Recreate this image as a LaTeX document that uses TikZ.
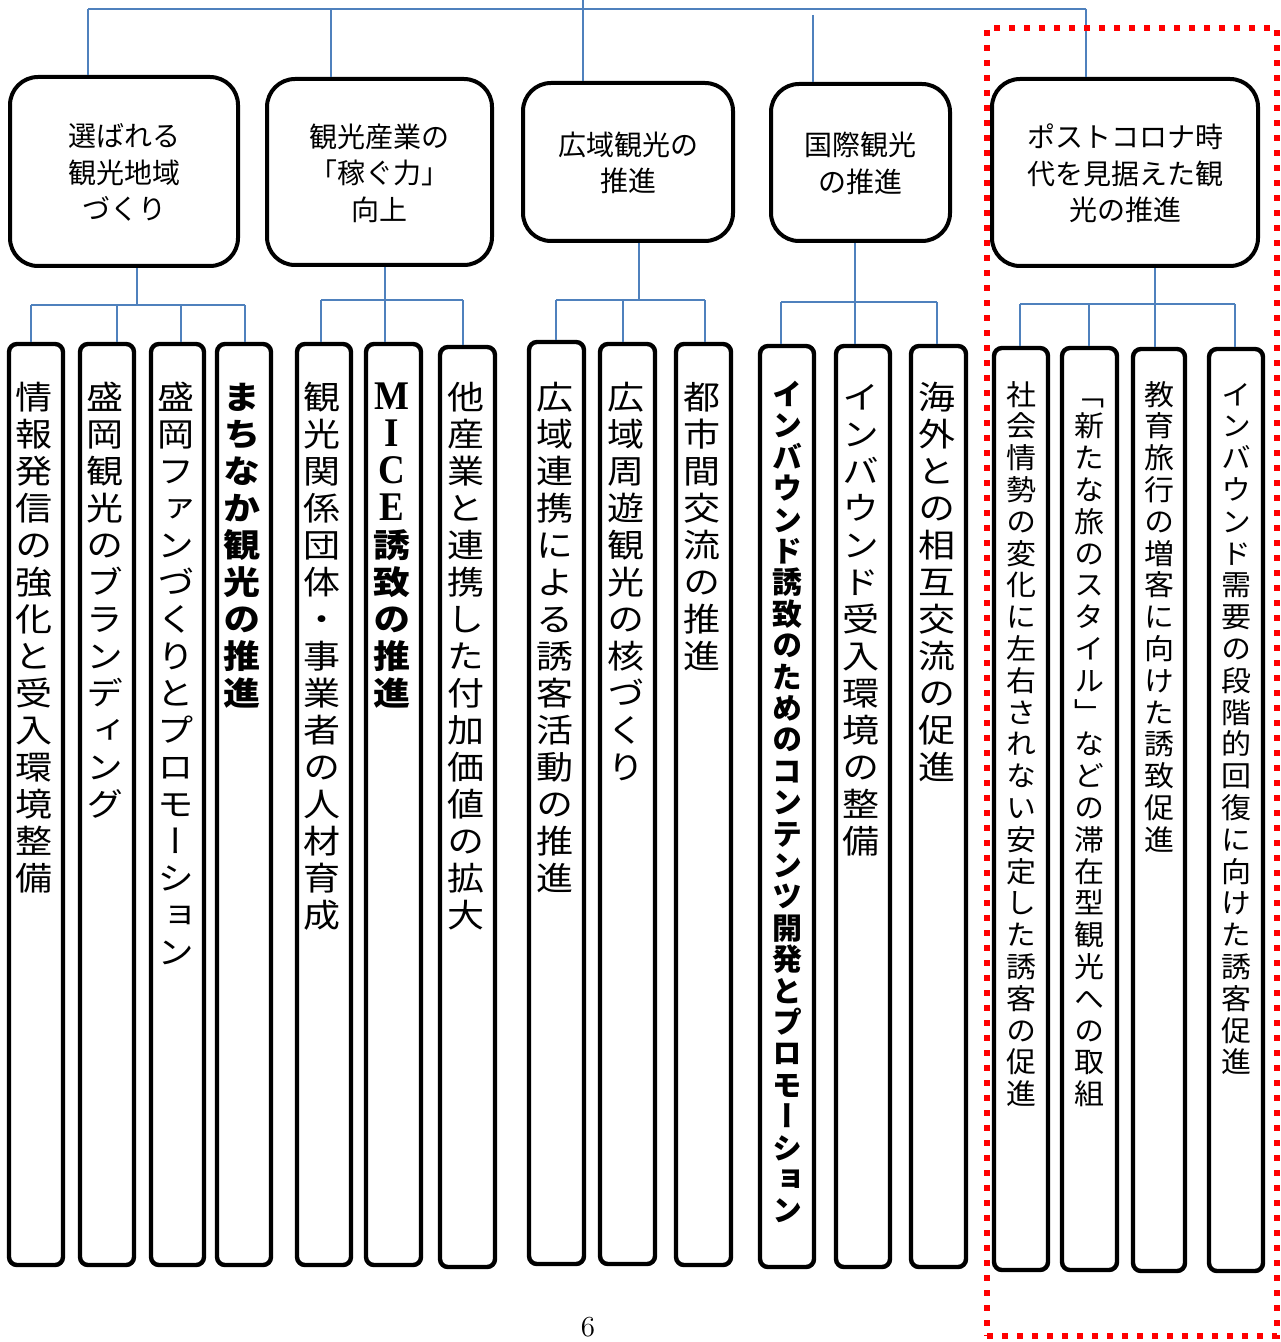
\documentclass[tikz,border=0pt]{standalone}
\usepackage{fontspec}
\usepackage{graphicx}
\usetikzlibrary{fit}
\newfontfamily\jpsans{Noto Sans CJK JP}
\newfontfamily\jpvert[RawFeature=+vert]{Noto Sans CJK JP}
\newfontfamily\latserif{Liberation Serif}
\definecolor{connblue}{RGB}{79,129,189}
\definecolor{dotred}{RGB}{255,0,0}
\makeatletter
% #1 vertical scale of glyphs, #2 slot pitch, #3 characters (one slot each)
\newcommand\vstack[3]{%
  \vbox{\offinterlineskip\@tfor\vt@ch:=#3\do{%
    \hbox to 2.2em{\hss\vbox to #2{\vss\hbox{\scalebox{1}[#1]{\vrule width0pt height.88em depth.12em\vt@ch}}\vss}\hss}}}}
\makeatother
\newcommand\micech[1]{\scalebox{1}[1.25]{\latserif #1}}
\begin{document}
\begin{tikzpicture}[x=0.5pt,y=-0.5pt,
  conn/.style={draw=connblue, line width=0.75pt},
  catbox/.style={draw=black, line width=2pt, rounded corners=14pt, inner sep=0pt},
  cattext/.style={inner sep=0pt, align=center, yshift=-0.5pt,
    font=\jpsans\fontsize{14}{18.25}\selectfont},
  colbox/.style={draw=black, line width=2.2pt, rounded corners=4pt, inner sep=0pt},
  vtwide/.style={inner sep=0pt, anchor=north, xshift=-1pt, font=\jpvert\fontsize{18.5}{18.5}\selectfont},
  vtnarrow/.style={inner sep=0pt, anchor=north, font=\jpvert\fontsize{15}{15}\selectfont},
  redframe/.style={draw=dotred, line width=3.2pt, dash pattern=on 3pt off 4.5pt, inner sep=0pt},
]
\fill[white] (0,0) rectangle (1280,1342);
\useasboundingbox (0,0) rectangle (1280,1342);

% category boxes
\node[catbox, fit={(10,77) (238,266)}]   (b1) {};
\node[catbox, fit={(267,79) (492,265)}]  (b2) {};
\node[catbox, fit={(523,83) (733,241)}]  (b3) {};
\node[catbox, fit={(771,84) (950,241)}]  (b4) {};
\node[catbox, fit={(992,79) (1258,266)}] (b5) {};
\node[cattext] (bt1) at (b1.center) {選ばれる\\観光地域\\づくり};
\node[cattext] (bt2) at (b2.center) {観光産業の\\「稼ぐ力」\\向上};
\node[cattext] (bt3) at (b3.center) {広域観光の\\推進};
\node[cattext] (bt4) at (b4.center) {国際観光\\の推進};
\node[cattext] (bt5) at (b5.center) {ポストコロナ時\\代を見据えた観\\光の推進};

% columns
\node[colbox, fit={(9,344) (63,1265)}]     (c1) {};
\node[colbox, fit={(80,344) (134,1265)}]   (c2) {};
\node[colbox, fit={(151,344) (204,1265)}]  (c3) {};
\node[colbox, fit={(217,344) (271,1265)}]  (c4) {};
\node[colbox, fit={(297,344) (351,1265)}]  (c5) {};
\node[colbox, fit={(366,344) (421,1265)}]  (c6) {};
\node[colbox, fit={(440,347) (495,1267)}]  (c7) {};
\node[colbox, fit={(529,342) (584,1264)}]  (c8) {};
\node[colbox, fit={(600,344) (655,1264)}]  (c9) {};
\node[colbox, fit={(676,344) (731,1265)}]  (c10) {};
\node[colbox, fit={(760,346) (814,1267)}]  (c11) {};
\node[colbox, fit={(836,346) (890,1267)}]  (c12) {};
\node[colbox, fit={(911,346) (966,1267)}]  (c13) {};
\node[colbox, fit={(994,348) (1048,1270)}] (c14) {};
\node[colbox, fit={(1062,348) (1117,1270)}] (c15) {};
\node[colbox, fit={(1133,349) (1185,1271)}] (c16) {};
\node[colbox, fit={(1209,349) (1263,1271)}] (c17) {};

% vertical texts
\coordinate (vw) at (0,378);
\coordinate (vn) at (0,378);
\node[vtwide] (t1) at (c1.north |- vw) {\vstack{0.88}{18.5pt}{情報発信の強化と受入環境整備}};
\node[vtwide] (t2) at (c2.north |- vw) {\vstack{0.88}{18.5pt}{盛岡観光のブランディング}};
\node[vtwide] (t3) at (c3.north |- vw) {\vstack{0.88}{18.5pt}{盛岡ファンづくりとプロモーション}};
\node[vtwide, font=\jpvert\bfseries\fontsize{18.5}{18.5}\selectfont] (t4) at (c4.north |- vw) {\vstack{0.88}{18.5pt}{まちなか観光の推進}};
\node[vtwide] (t5) at (c5.north |- vw) {\vstack{0.88}{18.5pt}{観光関係団体・事業者の人材育成}};
\node[vtwide, font=\jpvert\bfseries\fontsize{18.5}{18.5}\selectfont] (t6) at (c6.north |- vw) {\vstack{0.88}{18.5pt}{{\micech{M}}{\micech{I}}{\micech{C}}{\micech{E}}誘致の推進}};
\node[vtwide] (t7) at (c7.north |- vw) {\vstack{0.88}{18.5pt}{他産業と連携した付加価値の拡大}};
\node[vtwide] (t8) at (c8.north |- vw) {\vstack{0.88}{18.5pt}{広域連携による誘客活動の推進}};
\node[vtwide] (t9) at (c9.north |- vw) {\vstack{0.88}{18.5pt}{広域周遊観光の核づくり}};
\node[vtwide] (t10) at (c10.north |- vw) {\vstack{0.88}{18.5pt}{都市間交流の推進}};
\node[vtnarrow, font=\jpvert\bfseries\fontsize{15}{15}\selectfont] (t11) at (c11.north |- vn) {\vstack{1}{15.7pt}{インバウンド誘致のためのコンテンツ開発とプロモーション}};
\node[vtwide] (t12) at (c12.north |- vw) {\vstack{0.88}{18.5pt}{インバウンド受入環境の整備}};
\node[vtwide] (t13) at (c13.north |- vw) {\vstack{0.88}{18.5pt}{海外との相互交流の促進}};
\node[vtnarrow] (t14) at (c14.north |- vn) {\vstack{0.95}{15.9pt}{社会情勢の変化に左右されない安定した誘客の促進}};
\node[vtnarrow] (t15) at (c15.north |- vn) {\vstack{0.95}{15.9pt}{「新たな旅のスタイル」などの滞在型観光への取組}};
\node[vtnarrow] (t16) at (c16.north |- vn) {\vstack{0.95}{15.9pt}{教育旅行の増客に向けた誘致促進}};
\node[vtnarrow] (t17) at (c17.north |- vn) {\vstack{0.95}{15.9pt}{インバウンド需要の段階的回復に向けた誘客促進}};

% top-level connectors
\coordinate (root) at (583,0);
\coordinate (u1) at (88,9);
\coordinate (u2) at (331,9);
\coordinate (u4) at (813,15);
\coordinate (u5) at (1086,9);
\draw[conn] (u1) -- (u5);
\draw[conn] (root) -- (root |- b3.north);
\draw[conn] (u1) -- (u1 |- b1.north);
\draw[conn] (u2) -- (u2 |- b2.north);
\draw[conn] (u4) -- (u4 |- b4.north);
\draw[conn] (u5) -- (u5 |- b5.north);

% group junctions
\coordinate (j1) at (137,305);
\coordinate (j2) at (385,300);
\coordinate (j3) at (639,300);
\coordinate (j4) at (855,302);
\coordinate (j5) at (1155,304);
\draw[conn] (b1.south -| j1) -- (j1);
\draw[conn] (b2.south -| j2) -- (j2);
\draw[conn] (b3.south -| j3) -- (j3);
\draw[conn] (b4.south -| j4) -- (j4);
\draw[conn] (b5.south -| j5) -- (j5);

% drop points
\coordinate (a1) at (31,305);   \coordinate (a2) at (117,305);
\coordinate (a3) at (181,305);  \coordinate (a4) at (245,305);
\coordinate (a5) at (321,300);  \coordinate (a6) at (385,300);
\coordinate (a7) at (463,300);
\coordinate (a8) at (556,300);  \coordinate (a9) at (623,300);
\coordinate (a10) at (705,300);
\coordinate (a11) at (781,302); \coordinate (a12) at (855,302);
\coordinate (a13) at (937,302);
\coordinate (a14) at (1020,304); \coordinate (a15) at (1089,304);
\coordinate (a16) at (1155,304); \coordinate (a17) at (1235,304);
\draw[conn] (a1) -- (a4);
\draw[conn] (a5) -- (a7);
\draw[conn] (a8) -- (a10);
\draw[conn] (a11) -- (a13);
\draw[conn] (a14) -- (a17);
\foreach \i in {1,...,17} \draw[conn] (a\i) -- (a\i |- c\i.north);

% red dotted frame
\node[redframe, fit={(987,28) (1277,1336)}] (frame) {};

% page number
\node[font=\fontsize{14.5}{14.5}\selectfont, inner sep=0pt] (pg) at (588,1327) {6};
\end{tikzpicture}
\end{document}
